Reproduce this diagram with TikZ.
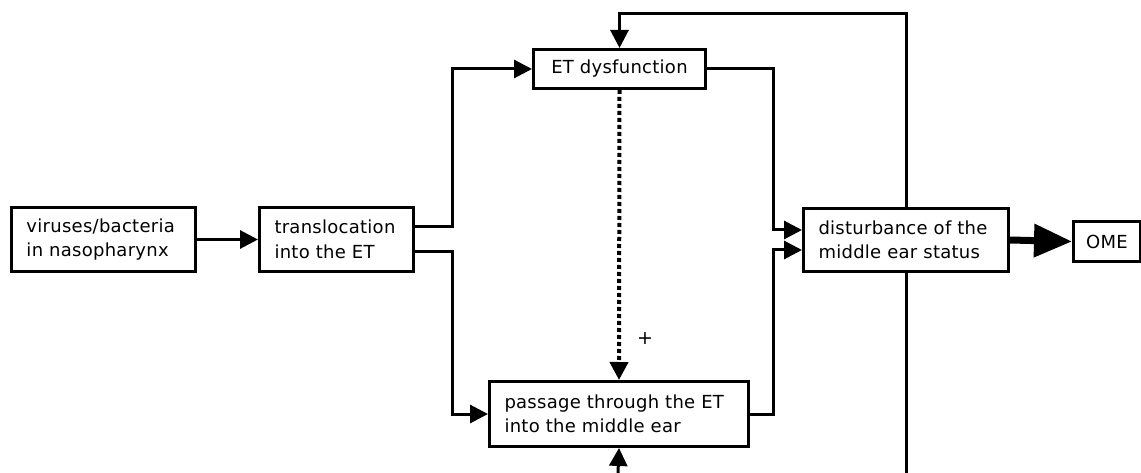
\documentclass[tikz,border=0pt]{standalone}
\usepackage{fontspec}
\setmainfont[LetterSpace=1.5]{DejaVu Sans}
\usetikzlibrary{arrows.meta,backgrounds,calc}
\begin{document}
\begin{tikzpicture}[x=1pt,y=-1pt,
  box/.style={draw,line width=3pt,fill=white,anchor=north west,inner xsep=15pt,inner ysep=0pt,
    align=left,font=\fontsize{18}{24.5}\selectfont},
  link/.style={line width=3pt,-{Triangle[length=18pt,width=18pt]}},
  dots/.style={line width=4pt,dash pattern=on 4pt off 3pt,-{Triangle[length=18pt,width=18pt]}},
  bigarrow/.style={line width=7pt,-{Triangle[length=38pt,width=32pt]}}]
\useasboundingbox (0,0) rectangle (1141,473);
% boxes
\node[box,minimum width=184pt,minimum height=64pt,text width=154pt] (vir) at (10,206) {viruses/bacteria\\in nasopharynx};
\node[box,minimum width=154pt,minimum height=64pt,text width=124pt] (tra) at (258,206) {translocation\\into the ET};
\node[box,minimum width=172pt,minimum height=39pt,align=center,inner xsep=0pt] (etd) at (532,48) {ET dysfunction};
\node[box,minimum width=259pt,minimum height=65pt,text width=229pt] (pas) at (488,380) {passage through the ET\\into the middle ear};
\node[box,minimum width=205pt,minimum height=63pt,text width=175pt] (dis) at (802,207) {disturbance of the\\middle ear status};
\node[box,minimum width=67pt,minimum height=40pt,align=center,inner xsep=0pt] (ome) at (1072,220) {OME};
% junction columns and free ends of the feedback loops
\coordinate (jl) at (452,0);
\coordinate (jr) at (773,0);
\coordinate (fbot) at (906,473);
\coordinate (ftop) at (906,14);
\coordinate (pbot) at (618,473);
% connectors
\draw[link] (vir.east) -- (tra.west);
\draw[link] ([yshift=13pt]tra.east) -- ([yshift=13pt]tra.east -| jl) |- (etd.west);
\draw[link] ([yshift=-12pt]tra.east) -- ([yshift=-12pt]tra.east -| jl) |- (pas.west);
\draw[link] (etd.east) -- (etd.east -| jr) |- ([yshift=10pt]dis.west);
\draw[link] (pas.east) -- (pas.east -| jr) |- ([yshift=-10pt]dis.west);
\draw[dots] (etd.south) -- (pas.north);
\node[font=\fontsize{19}{19}\selectfont] (plus) at (645,339) {+};
\begin{scope}[on background layer]
\draw[link] (fbot) -- (ftop) -| (etd.north);
\end{scope}
\draw[link] (pbot) -- (pas.south);
\draw[bigarrow] (dis.east) -- (ome.west);
\end{tikzpicture}
\end{document}
